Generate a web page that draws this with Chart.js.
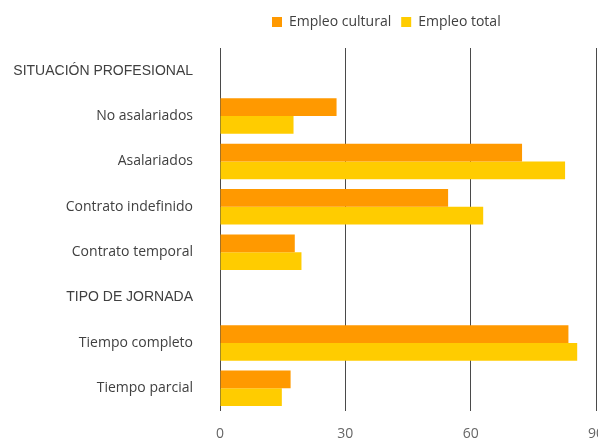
<!DOCTYPE html>
<html>
<head>
<meta charset="utf-8">
<script src="https://cdn.jsdelivr.net/npm/chart.js@4.4.1/dist/chart.umd.min.js"></script>
<style>
  html, body { margin: 0; padding: 0; background: #ffffff; }
  #wrap { width: 598px; height: 439px; position: relative; }
</style>
</head>
<body>
<div id="wrap"><canvas id="c" width="598" height="439"></canvas></div>
<script>
const categories = [
  'SITUACIÓN PROFESIONAL',
  'No asalariados',
  'Asalariados',
  'Contrato indefinido',
  'Contrato temporal',
  'TIPO DE JORNADA',
  'Tiempo completo',
  'Tiempo parcial'
];
const headerRows = [0, 5];
const seriesNames = ['Empleo cultural', 'Empleo total'];
const empleoCultural = [null, 27.9, 72.3, 54.6, 17.9, null, 83.4, 16.9];
const empleoTotal    = [null, 17.6, 82.6, 63.0, 19.5, null, 85.5, 14.8];
const xTicks = [0, 30, 60, 90];

const FONT = "'Open Sans', 'Lato', sans-serif";
const HEADER_FONT = "'Liberation Sans', Arial, sans-serif";

const legendPlacer = {
  id: 'legendPlacer',
  afterLayout(chart) {
    const lg = chart.legend;
    if (!lg) return;
    const w = lg.right - lg.left;
    const h = lg.bottom - lg.top;
    lg.left = 262; lg.right = 262 + w;
    lg.top = 5; lg.bottom = 5 + h;
  }
};

new Chart(document.getElementById('c'), {
  type: 'bar',
  data: {
    labels: categories,
    datasets: [
      { label: seriesNames[0], data: empleoCultural, backgroundColor: '#FF9900', borderWidth: 0 },
      { label: seriesNames[1], data: empleoTotal, backgroundColor: '#FFCC00', borderWidth: 0 }
    ]
  },
  options: {
    indexAxis: 'y',
    responsive: false,
    animation: false,
    devicePixelRatio: 1,
    categoryPercentage: 0.785,
    barPercentage: 1.0,
    layout: { padding: { top: 14, left: 0, right: 2, bottom: 0 } },
    plugins: {
      legend: {
        position: 'top',
        align: 'start',
        labels: {
          boxWidth: 10, boxHeight: 10, padding: 10,
          color: '#404040',
          font: { family: FONT, size: 14 }
        }
      },
      tooltip: { enabled: false }
    },
    scales: {
      x: {
        min: 0, max: 90,
        afterBuildTicks(scale) { scale.ticks = xTicks.map(v => ({ value: v })); },
        afterFit(scale) { scale.paddingLeft = 0; scale.paddingRight = 0; scale.height = 28; },
        grid: { color: '#4a4a4a', lineWidth: 1, drawTicks: false },
        border: { display: false },
        ticks: { color: '#666666', padding: 15, font: { family: FONT, size: 14 }, maxRotation: 0 }
      },
      y: {
        afterFit(scale) { scale.width = 220; scale.paddingTop = 0; scale.paddingBottom = 0; },
        grid: { display: false, drawTicks: false },
        border: { display: false },
        ticks: {
          color: '#404040', padding: 27, autoSkip: false,
          font: (ctx) => headerRows.includes(ctx.index)
            ? { family: HEADER_FONT, size: 14 }
            : { family: FONT, size: 14 }
        }
      }
    }
  },
  plugins: [legendPlacer]
});
</script>
</body>
</html>
